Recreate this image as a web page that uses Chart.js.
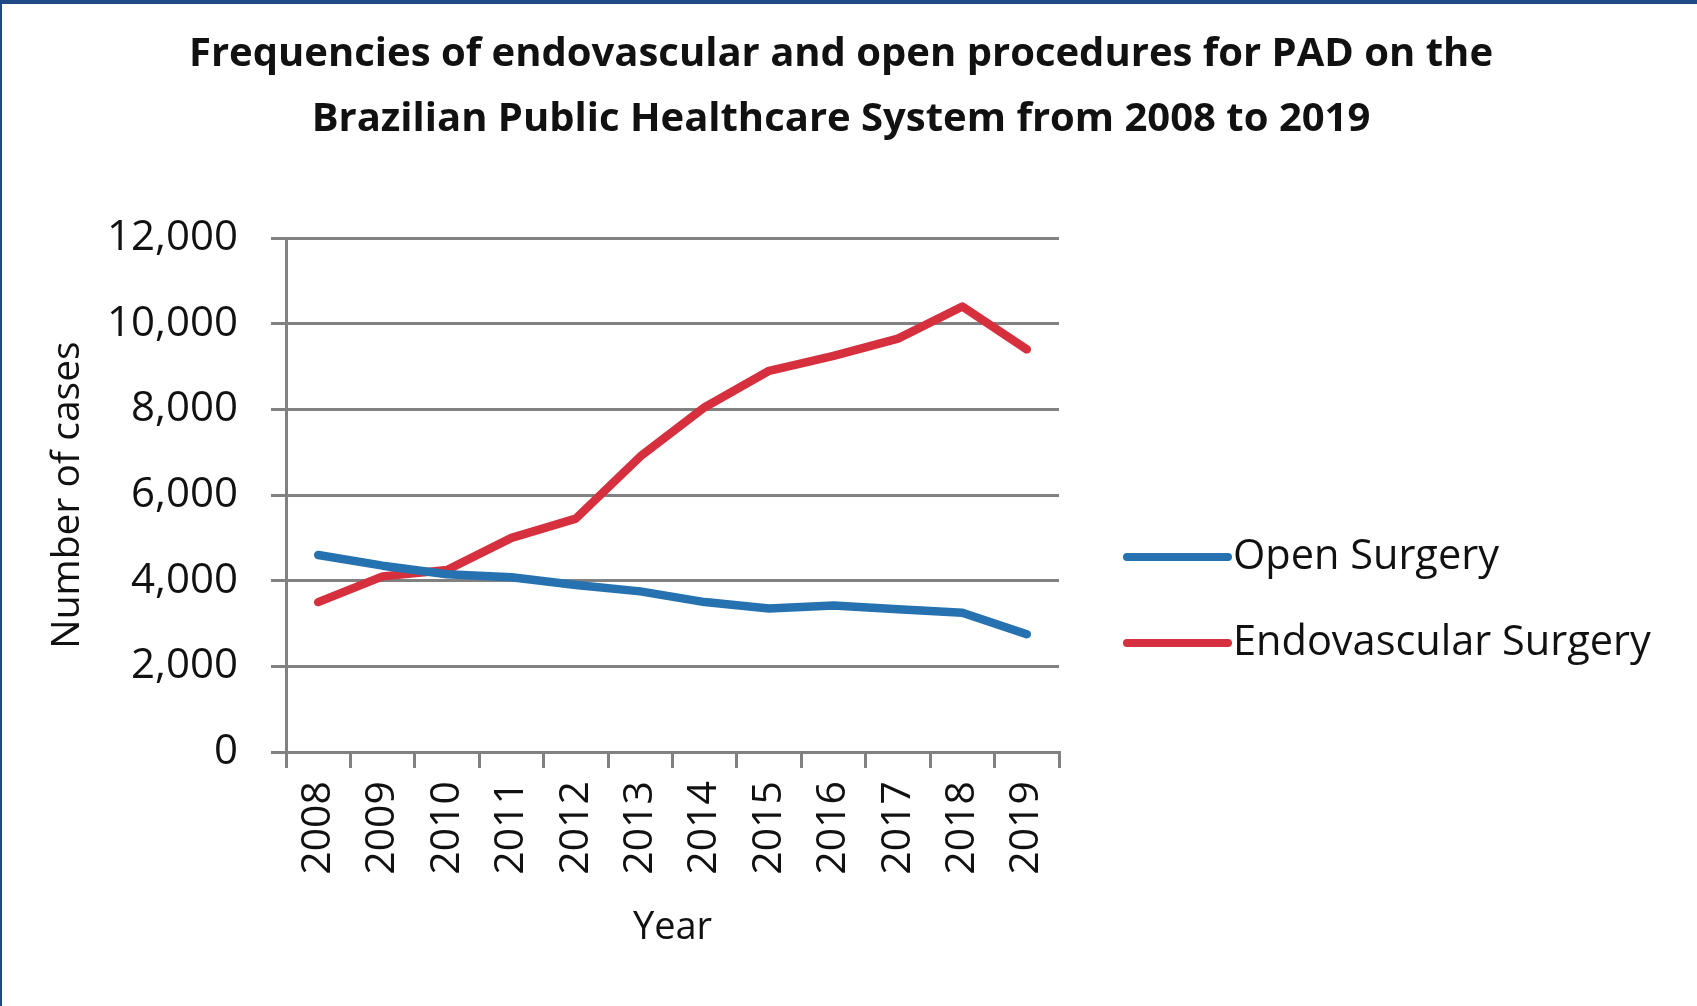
<!DOCTYPE html>
<html>
<head>
<meta charset="utf-8">
<script src="https://cdn.jsdelivr.net/npm/chart.js@4.4.1/dist/chart.umd.min.js"></script>
<style>
  html, body { margin: 0; padding: 0; background: #ffffff; }
  #wrap { position: relative; width: 1697px; height: 1006px; overflow: hidden; }
  #c { position: absolute; left: 0; top: 0; }
  #frame { position: absolute; left: 0; top: 0; width: 1697px; height: 1006px; box-sizing: border-box;
           border-top: 4px solid #1f4a84; border-left: 2px solid #1f4a84; pointer-events: none; }
</style>
</head>
<body>
<div id="wrap">
  <canvas id="c" width="1697" height="1006"></canvas>
  <div id="frame"></div>
</div>
<script>
// ---- data ----
const years = ['2008','2009','2010','2011','2012','2013','2014','2015','2016','2017','2018','2019'];
const openSurgery = [4600, 4350, 4150, 4080, 3900, 3750, 3500, 3350, 3420, 3330, 3250, 2750];
const endovascularSurgery = [3500, 4100, 4250, 5000, 5450, 6900, 8050, 8900, 9250, 9650, 10400, 9400];
const seriesNames = ['Open Surgery', 'Endovascular Surgery'];
const titleLines = ['Frequencies of endovascular and open procedures for PAD on the',
                    'Brazilian Public Healthcare System from 2008 to 2019'];
const yTitle = 'Number of cases';
const xTitle = 'Year';

// ---- styling / layout ----
const FONT = '"Open Sans", "Liberation Sans", sans-serif';
const gridColor = '#818181';
const areaLeft = 286;
const areaRight = 1059;
const padLeft = 0;
const padRight = 15;

// legend drawn beside the plot, from the datasets' own labels and colours
const sideLegend = {
  id: 'sideLegend',
  afterDraw(chart) {
    const ctx = chart.ctx;
    const x0 = 1127, len = 101, gap = 5, y0 = 557, step = 86;
    ctx.save();
    chart.data.datasets.forEach((ds, i) => {
      const y = y0 + i * step;
      ctx.beginPath();
      ctx.lineCap = 'round';
      ctx.lineWidth = 8;
      ctx.strokeStyle = ds.borderColor;
      ctx.moveTo(x0, y);
      ctx.lineTo(x0 + len, y);
      ctx.stroke();
      ctx.fillStyle = '#111';
      ctx.font = '41.5px ' + FONT;
      ctx.textAlign = 'left';
      ctx.textBaseline = 'middle';
      ctx.fillText(ds.label, x0 + len + gap, y);
    });
    ctx.restore();
  }
};

Chart.defaults.font.family = FONT;
Chart.defaults.color = '#1a1a1a';

new Chart(document.getElementById('c'), {
  type: 'line',
  data: {
    labels: years,
    datasets: [
      { label: seriesNames[0], data: openSurgery, borderColor: '#2672b0', backgroundColor: '#2672b0',
        borderWidth: 8.5, pointRadius: 0, tension: 0, borderCapStyle: 'round', borderJoinStyle: 'round' },
      { label: seriesNames[1], data: endovascularSurgery, borderColor: '#d6303e', backgroundColor: '#d6303e',
        borderWidth: 8.5, pointRadius: 0, tension: 0, borderCapStyle: 'round', borderJoinStyle: 'round' }
    ]
  },
  plugins: [sideLegend],
  options: {
    responsive: false,
    animation: false,
    events: [],
    layout: { padding: { left: padLeft, right: padRight, top: 0, bottom: 0 } },
    plugins: {
      tooltip: { enabled: false },
      legend: { display: false },
      title: {
        display: true,
        text: titleLines,
        color: '#111',
        font: { size: 40, weight: 'bold', lineHeight: 65 / 40 },
        padding: { top: 22, bottom: 86 }
      }
    },
    scales: {
      x: {
        offset: true,
        grid: { offset: true, drawOnChartArea: false, drawTicks: true, tickLength: 16, color: gridColor, lineWidth: 3 },
        border: { display: true, color: gridColor, width: 3 },
        ticks: { autoSkip: false, minRotation: 90, maxRotation: 90, padding: 13, color: '#111', font: { size: 41 } },
        title: { display: true, text: xTitle, color: '#111', font: { size: 38 }, padding: { top: 0, bottom: 55 } },
        afterFit: (s) => { s.height = 254; }
      },
      y: {
        min: 0, max: 12000,
        ticks: { stepSize: 2000, padding: 33, color: '#111', font: { size: 42 },
                 callback: (v) => v.toLocaleString('en-US') },
        grid: { color: gridColor, lineWidth: 3, tickLength: 15, drawTicks: true },
        border: { display: true, color: gridColor, width: 3 },
        title: { display: true, text: yTitle, color: '#111', font: { size: 39 }, padding: { top: 44, bottom: 0 } },
        afterFit: (s) => { s.width = areaLeft - padLeft; }
      },
      side: {
        type: 'linear',
        position: 'right',
        display: true,
        grid: { display: false, drawTicks: false },
        border: { display: false },
        ticks: { display: false },
        afterFit: (s) => { s.width = 1697 - padRight - areaRight; }
      }
    }
  }
});
</script>
</body>
</html>
